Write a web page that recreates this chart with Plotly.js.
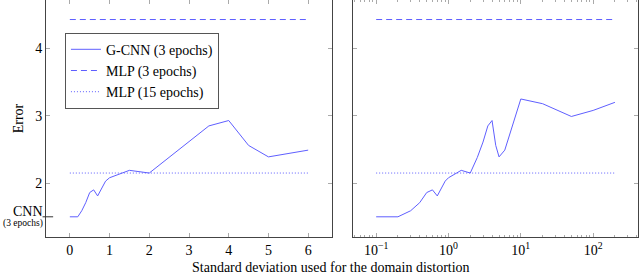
<!DOCTYPE html>
<html><head><meta charset="utf-8">
<script src="https://cdn.plot.ly/plotly-3.0.1.min.js"></script>
<style>html,body{margin:0;padding:0;background:#fff}</style>
</head><body><div id="chart" style="width:640px;height:276px"></div>
<script>
const gcnnX = [0, 0.1, 0.2, 0.3, 0.4, 0.5, 0.6, 0.7, 0.8, 0.9, 1, 1.5, 2, 2.5, 3, 3.5, 4, 4.5, 5, 6, 10, 20, 50, 100, 200];
const gcnnY = [1.5, 1.5, 1.5, 1.59, 1.71, 1.86, 1.90, 1.81, 1.93, 2.03, 2.08, 2.19, 2.15, 2.38, 2.61, 2.85, 2.93, 2.56, 2.39, 2.49, 3.25, 3.18, 2.99, 3.08, 3.20];
const mlp3 = 4.43;
const mlp15 = 2.15;
const cnnBaseline = 1.5;
const cnnLabel = 'CNN';
const cnnSubLabel = '(3 epochs)';
const linXRange = [0, 6];
const logXRange = [0.1, 200];
const yTickVals = [2, 3, 4];
const logTickVals = [0.1, 1, 10, 100];
const logTickText = ['10<sup>\u22121</sup>', '10<sup>0</sup>', '10<sup>1</sup>', '10<sup>2</sup>'];
const names = ['G-CNN (3 epochs)', 'MLP (3 epochs)', 'MLP (15 epochs)'];
const xTitle = 'Standard deviation used for the domain distortion';
const yTitle = 'Error';

const blue = 'rgb(95,95,255)';
const fam = 'Liberation Serif';
const font = {family: fam, size: 14, color: '#000'};

const logIdx = gcnnX.map((v, i) => i).filter(i => gcnnX[i] > 0);
const linIdx = gcnnX.map((v, i) => i).filter(i => gcnnX[i] <= linXRange[1]);

const traces = [
  {x: linIdx.map(i => gcnnX[i]), y: linIdx.map(i => gcnnY[i]), xaxis: 'x', yaxis: 'y', mode: 'lines', name: names[0], line: {color: blue, width: 1}},
  {x: linXRange, y: [mlp3, mlp3], xaxis: 'x', yaxis: 'y', mode: 'lines', name: names[1], line: {color: blue, width: 1, dash: '6px,4px'}},
  {x: linXRange, y: [mlp15, mlp15], xaxis: 'x', yaxis: 'y', mode: 'lines', name: names[2], line: {color: blue, width: 1, dash: '1px,2px'}},
  {x: logIdx.map(i => gcnnX[i]), y: logIdx.map(i => gcnnY[i]), xaxis: 'x2', yaxis: 'y2', mode: 'lines', showlegend: false, line: {color: blue, width: 1}},
  {x: logXRange, y: [mlp3, mlp3], xaxis: 'x2', yaxis: 'y2', mode: 'lines', showlegend: false, line: {color: blue, width: 1, dash: '6px,4px'}},
  {x: logXRange, y: [mlp15, mlp15], xaxis: 'x2', yaxis: 'y2', mode: 'lines', showlegend: false, line: {color: blue, width: 1, dash: '1px,2px'}}
];

const axCommon = {showline: true, linecolor: '#444', linewidth: 1, mirror: 'ticks', ticks: 'inside', ticklen: 4, tickcolor: '#aaa', showgrid: false, zeroline: false, tickfont: font};
const yRange = [1.2, 4.72];

const layout = {
  width: 640, height: 276,
  margin: {l: 46, r: 2, t: 0, b: 39},
  paper_bgcolor: '#fff', plot_bgcolor: '#fff',
  font: font,
  showlegend: true,
  legend: {x: 0.032, y: 0.862, xanchor: 'left', yanchor: 'top', bordercolor: '#555', borderwidth: 1, bgcolor: '#fff', font: font, tracegroupgap: 0, itemwidth: 30},
  xaxis: Object.assign({}, axCommon, {domain: [0, 0.4831], range: [-0.6, 6.6], tickvals: [0, 1, 2, 3, 4, 5, 6]}),
  yaxis: Object.assign({}, axCommon, {range: yRange, tickvals: yTickVals, title: {text: yTitle, font: font, standoff: 8}}),
  xaxis2: Object.assign({}, axCommon, {domain: [0.5186, 1], type: 'log', range: [-1.32, 2.62], tickvals: logTickVals, ticktext: logTickText,
    minor: {ticks: 'inside', ticklen: 2, tickcolor: '#aaa', tickvals: [0.05,0.06,0.07,0.08,0.09,0.2,0.3,0.4,0.5,0.6,0.7,0.8,0.9,2,3,4,5,6,7,8,9,20,30,40,50,60,70,80,90,200,300,400]}}),
  yaxis2: Object.assign({}, axCommon, {anchor: 'x2', range: yRange, tickvals: yTickVals, showticklabels: false}),
  shapes: [
    {type: 'line', xref: 'x domain', yref: 'y', x0: -0.012, x1: 0.025, y0: cnnBaseline, y1: cnnBaseline, line: {color: '#333', width: 1}}
  ],
  annotations: [
    {text: xTitle, xref: 'paper', yref: 'paper', x: 0.481, y: -0.13, xanchor: 'center', yanchor: 'middle', showarrow: false, font: font},
    {text: cnnLabel, xref: 'paper', yref: 'y', x: -0.004, y: cnnBaseline, xanchor: 'right', yanchor: 'middle', yshift: 5, showarrow: false, borderpad: 0, font: font},
    {text: cnnSubLabel, xref: 'paper', yref: 'y', x: -0.004, y: cnnBaseline, xanchor: 'right', yanchor: 'middle', yshift: -7, showarrow: false, borderpad: 0, font: {family: fam, size: 9.5, color: '#000'}}
  ]
};

Plotly.newPlot('chart', traces, layout, {displayModeBar: false, staticPlot: true});
</script></body></html>
